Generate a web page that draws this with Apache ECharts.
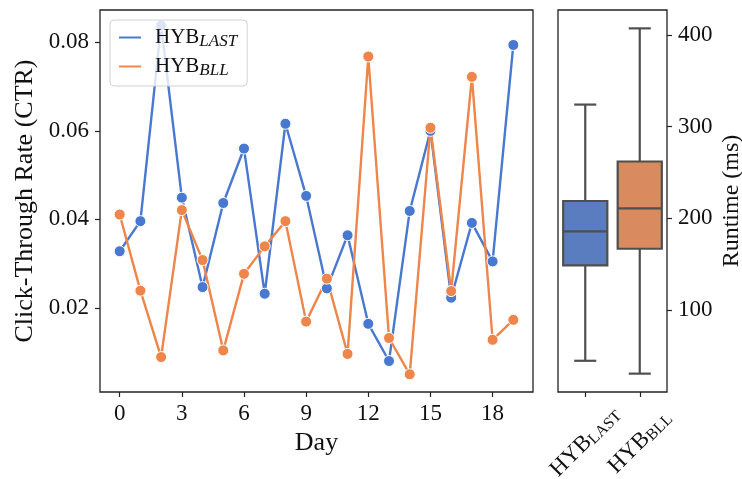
<!DOCTYPE html>
<html>
<head>
<meta charset="utf-8">
<script src="https://cdn.jsdelivr.net/npm/echarts@6/dist/echarts.min.js"></script>
<style>
  html, body { margin: 0; padding: 0; background: #fff; }
  #myChart { width: 742px; height: 479px; }
</style>
</head>
<body>
<div id="myChart"></div>
<script>
// days 0..19
const days = [0,1,2,3,4,5,6,7,8,9,10,11,12,13,14,15,16,17,18,19];
const ctrLast = [0.0328,0.0396,0.0838,0.0449,0.0247,0.0437,0.0560,0.0232,0.0616,0.0453,
                 0.0244,0.0364,0.0164,0.0080,0.0419,0.0600,0.0223,0.0392,0.0305,0.0794];
const ctrBll  = [0.0411,0.0239,0.0089,0.0421,0.0308,0.0104,0.0277,0.0339,0.0396,0.0169,
                 0.0266,0.0096,0.0768,0.0132,0.0050,0.0607,0.0238,0.0722,0.0128,0.0173];
const dayTicks = [0,3,6,9,12,15,18];
const ctrTicks = [0.02,0.04,0.06,0.08];

// runtime boxes: [min, q1, median, q3, max]
const methods = ['HYB_LAST','HYB_BLL'];
const runtimeLast = [45, 149, 186, 219, 324];
const runtimeBll  = [31, 167, 211, 262, 407];
const runtimeTicks = [100,200,300,400];

const lineColors = ['#4878d0','#ee854a'];
const boxColors = ['#597dbf','#d98b5f'];
const FONT = '"Liberation Serif", "DejaVu Serif", serif';
const TICK_SIZE = 23;
const TITLE_SIZE = 26;

const frame = '#222';
const myChart = echarts.init(document.getElementById('myChart'));

const boxRows = [runtimeLast, runtimeBll].map((r, i) => [i].concat(r));

const subName = (name, italic) => {
  const p = name.split('_');
  return '{m|' + p[0] + '}{' + (italic ? 's' : 't') + '|' + p[1] + '}';
};

const tickStyle = { color: frame, width: 1.2 };

const option = {
  backgroundColor: '#fff',
  animation: false,
  textStyle: { fontFamily: FONT },
  grid: [
    { left: 100, top: 10, width: 433, height: 382, outerBoundsMode: 'none', containLabel: false,
      show: true, borderColor: frame, borderWidth: 1.3, backgroundColor: 'transparent' },
    { left: 558, top: 10, width: 109, height: 382, outerBoundsMode: 'none', containLabel: false,
      show: true, borderColor: frame, borderWidth: 1.3, backgroundColor: 'transparent' }
  ],
  legend: {
    left: 110, top: 20,
    orient: 'vertical',
    icon: 'rect',
    itemWidth: 24, itemHeight: 4,
    itemGap: 6,
    padding: [7, 10, 7, 7],
    backgroundColor: 'rgba(255,255,255,0.8)',
    borderColor: '#d0d0d0', borderWidth: 1, borderRadius: 4,
    data: methods,
    formatter: name => subName(name, true),
    textStyle: {
      fontFamily: FONT, color: '#111',
      rich: {
        m: { fontFamily: FONT, fontSize: 21, color: '#111', lineHeight: 22, padding: [0, 0, 0, 8] },
        s: { fontFamily: FONT, fontSize: 17, fontStyle: 'italic', color: '#111', padding: [8, 0, 0, 0] }
      }
    }
  },
  xAxis: [
    {
      gridIndex: 0, type: 'value', min: -0.95, max: 19.95,
      name: 'Day', nameLocation: 'middle', nameGap: 36,
      nameTextStyle: { fontFamily: FONT, fontSize: TITLE_SIZE, color: '#111' },
      axisLine: { show: false, onZero: false },
      splitLine: { show: false },
      axisTick: { show: true, length: 5, customValues: dayTicks, lineStyle: tickStyle },
      axisLabel: { customValues: dayTicks, margin: 10, fontFamily: FONT, fontSize: TICK_SIZE, color: '#111' }
    },
    {
      gridIndex: 1, type: 'category', data: methods,
      axisLine: { show: false, onZero: false },
      splitLine: { show: false },
      axisTick: { show: true, length: 5, alignWithLabel: true, lineStyle: tickStyle },
      axisLabel: {
        rotate: 45, align: 'center', verticalAlign: 'middle', margin: 50,
        formatter: v => subName(v, false),
        rich: {
          m: { fontFamily: FONT, fontSize: 23, color: '#111' },
          t: { fontFamily: FONT, fontSize: 16, color: '#111', padding: [8, 0, 0, 0] }
        }
      }
    }
  ],
  yAxis: [
    {
      gridIndex: 0, type: 'value', min: 0.001, max: 0.0873,
      name: 'Click-Through Rate (CTR)', nameLocation: 'middle', nameGap: 60,
      nameTextStyle: { fontFamily: FONT, fontSize: TITLE_SIZE, color: '#111' },
      axisLine: { show: false, onZero: false },
      splitLine: { show: false },
      axisTick: { show: true, length: 5, customValues: ctrTicks, lineStyle: tickStyle },
      axisLabel: { customValues: ctrTicks, margin: 11, fontFamily: FONT, fontSize: TICK_SIZE, color: '#111',
                   formatter: v => v.toFixed(2) }
    },
    {
      gridIndex: 1, type: 'value', position: 'right', min: 11, max: 427,
      name: 'Runtime (ms)', nameLocation: 'middle', nameGap: 53,
      nameTextStyle: { fontFamily: FONT, fontSize: 24, color: '#111' },
      axisLine: { show: false, onZero: false },
      splitLine: { show: false },
      axisTick: { show: true, length: 5, customValues: runtimeTicks, lineStyle: tickStyle },
      axisLabel: { customValues: runtimeTicks, margin: 11, fontFamily: FONT, fontSize: TICK_SIZE, color: '#111' }
    }
  ],
  series: [
    {
      name: 'HYB_LAST', type: 'line', xAxisIndex: 0, yAxisIndex: 0,
      data: days.map((d, i) => [d, ctrLast[i]]),
      color: lineColors[0],
      symbol: 'circle', symbolSize: 11,
      lineStyle: { width: 2.4 },
      itemStyle: { borderColor: '#fff', borderWidth: 1 }
    },
    {
      name: 'HYB_BLL', type: 'line', xAxisIndex: 0, yAxisIndex: 0,
      data: days.map((d, i) => [d, ctrBll[i]]),
      color: lineColors[1],
      symbol: 'circle', symbolSize: 11,
      lineStyle: { width: 2.4 },
      itemStyle: { borderColor: '#fff', borderWidth: 1 }
    },
    {
      type: 'custom', xAxisIndex: 1, yAxisIndex: 1,
      data: boxRows,
      encode: { x: 0, y: [1, 2, 3, 4, 5] },
      renderItem: (params, api) => {
        const i = api.value(0);
        const lo = api.coord([i, api.value(1)]);
        const q1 = api.coord([i, api.value(2)]);
        const md = api.coord([i, api.value(3)]);
        const q3 = api.coord([i, api.value(4)]);
        const hi = api.coord([i, api.value(5)]);
        const bw = api.size([1, 0])[0] * 0.81;
        const cx = lo[0];
        const edge = { stroke: '#4f4f4f', lineWidth: 2.2 };
        return {
          type: 'group',
          children: [
            { type: 'line', shape: { x1: cx, y1: lo[1], x2: cx, y2: q1[1] }, style: edge },
            { type: 'line', shape: { x1: cx, y1: q3[1], x2: cx, y2: hi[1] }, style: edge },
            { type: 'line', shape: { x1: cx - bw / 4, y1: lo[1], x2: cx + bw / 4, y2: lo[1] }, style: edge },
            { type: 'line', shape: { x1: cx - bw / 4, y1: hi[1], x2: cx + bw / 4, y2: hi[1] }, style: edge },
            { type: 'rect', shape: { x: cx - bw / 2, y: q3[1], width: bw, height: q1[1] - q3[1] },
              style: { fill: boxColors[i], stroke: '#4f4f4f', lineWidth: 2.2 } },
            { type: 'line', shape: { x1: cx - bw / 2, y1: md[1], x2: cx + bw / 2, y2: md[1] }, style: edge }
          ]
        };
      }
    }
  ]
};

myChart.setOption(option);
</script>
</body>
</html>
